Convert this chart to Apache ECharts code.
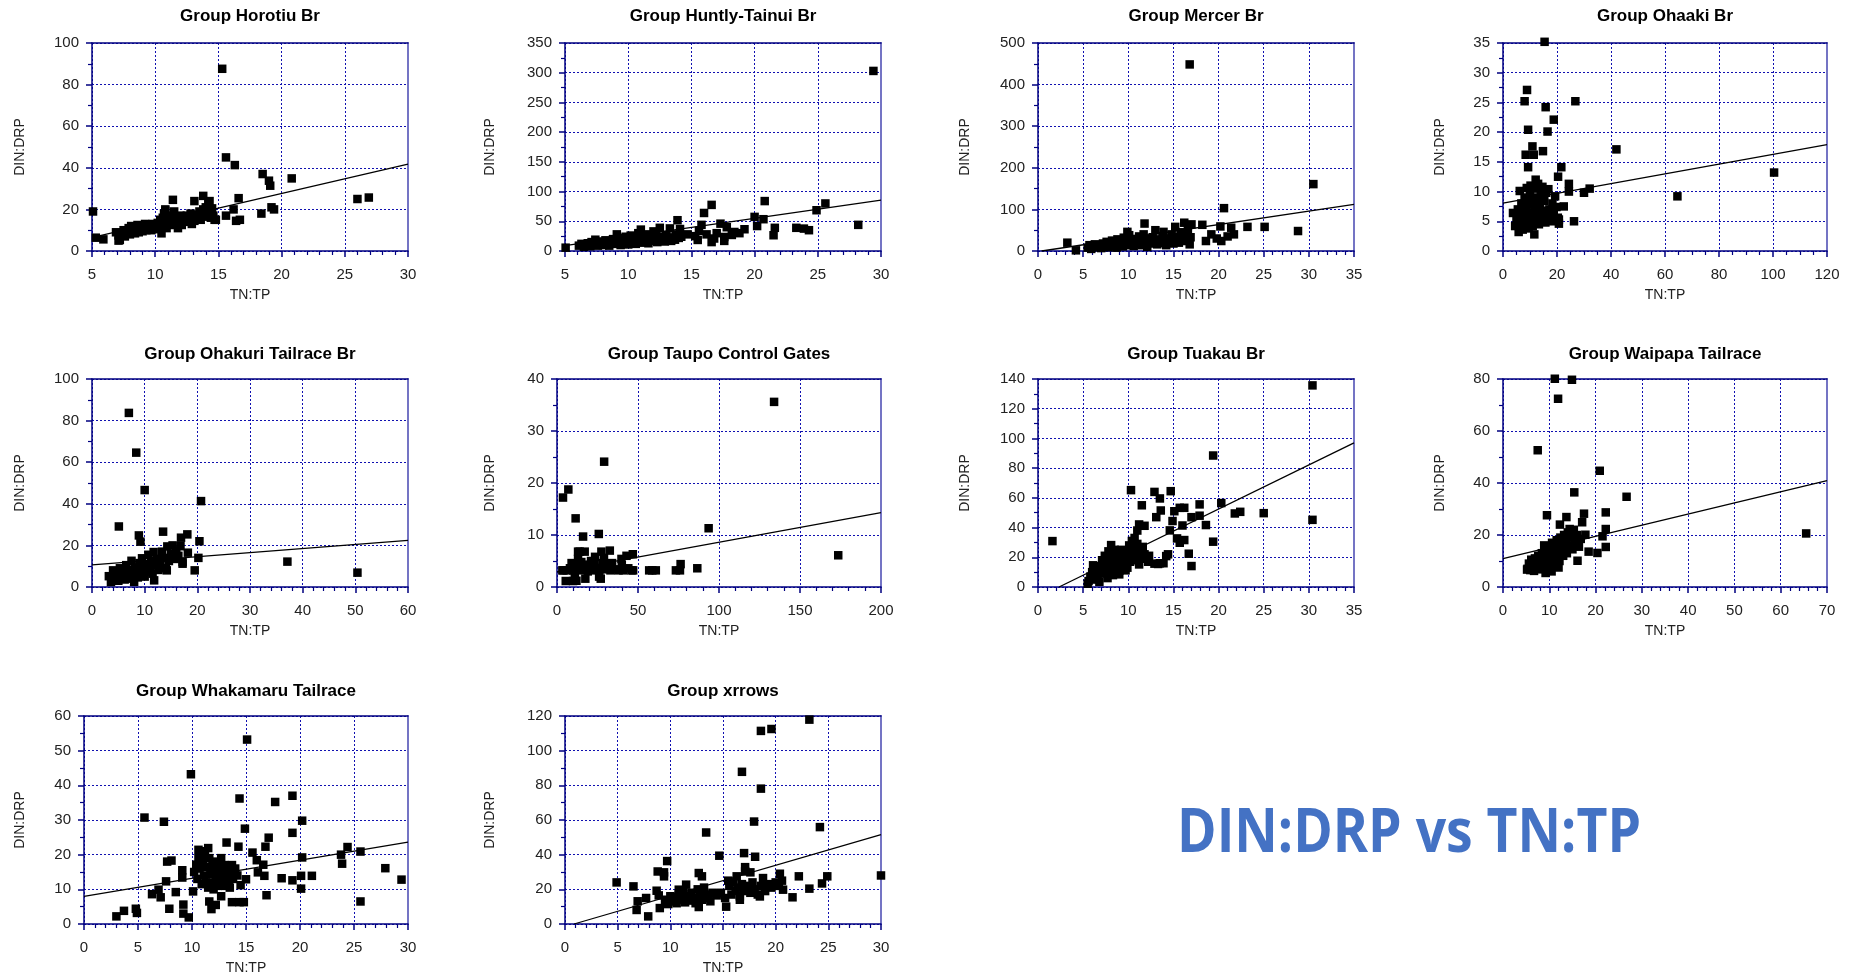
<!DOCTYPE html>
<html><head><meta charset="utf-8">
<script src="https://cdn.jsdelivr.net/npm/echarts@6/dist/echarts.min.js"></script>
<style>html,body{margin:0;padding:0;background:#fff}#c{width:1858px;height:979px}</style>
</head><body><div id="c"></div>
<script>
// ---------- DATA ----------
const titles = ['Group Horotiu Br','Group Huntly-Tainui Br','Group Mercer Br','Group Ohaaki Br',
  'Group Ohakuri Tailrace Br','Group Taupo Control Gates','Group Tuakau Br','Group Waipapa Tailrace',
  'Group Whakamaru Tailrace','Group xrrows'];
const xAxisName = 'TN:TP';
const yAxisName = 'DIN:DRP';
const bigLabel = 'DIN:DRP vs TN:TP';
// [min, max, interval]
const xRanges = [[5,30,5],[5,30,5],[0,35,5],[0,120,20],[0,60,10],[0,200,50],[0,35,5],[0,70,10],[0,30,5],[0,30,5]];
const yRanges = [[0,100,20],[0,350,50],[0,500,100],[0,35,5],[0,100,20],[0,40,10],[0,140,20],[0,80,20],[0,60,10],[0,120,20]];
const xMinorSplits = [5,5,5,4,5,5,5,5,5,5];

const horotiu = [[5.08,19],[5.3,6.4],[5.9,5.6],[7.1,5],[11.4,24.6],[10.8,19.3],[13.1,24],[13.8,26.5],[14.3,24],[14.7,15],
 [15.3,87.6],[15.6,45],[16.3,41.3],[15.6,17],[16.2,20],[16.4,14.5],[16.6,25.4],[16.7,15],[18.5,37],[19,33.8],[19.1,31.4],
 [18.4,18],[19.2,21],[19.4,20],[20.8,34.9],[26,25],[26.9,25.7],
 [6.9,9],[7.1,7.5],[7.2,5.3],[7.4,8.5],[7.5,10],[7.6,7],[7.8,9.5],[7.9,11],[8.0,8],[8.1,12],[8.2,9.5],[8.3,10.5],[8.4,8.5],
 [8.5,11.5],[8.6,12.5],[8.7,9],[8.8,10.5],[8.9,12],[9.0,9.5],[9.1,11],[9.2,13],[9.3,10],[9.4,12],[9.5,11],[9.6,12.5],[9.7,10],
 [9.8,13],[9.9,11.5],[10.0,12],[10.1,10.5],[10.2,13.5],[10.3,12],[10.4,15],[10.5,8.5],[10.6,16],[10.7,18],[10.7,13],[10.8,20],
 [10.9,11],[11.0,14],[11.1,17],[11.2,12.5],[11.3,15],[11.5,19],[11.6,13],[11.7,16],[11.8,11],[11.9,14.5],[12.0,17],[12.1,12.5],
 [12.2,15.5],[12.4,14],[12.5,17],[12.6,15],[12.8,18],[12.9,13],[13.0,16],[13.1,14.5],[13.2,17.5],[13.4,16],[13.5,19],[13.6,15],
 [13.7,17.5],[13.8,20],[13.9,16.5],[14.0,21],[14.1,18],[14.2,23],[14.3,19],[14.4,16],[14.5,20.5],[14.6,17],[14.8,15]];

const huntly = [[5.05,5.6],[29.4,303],[20.8,84],[25.6,80],[24.9,68.6],[16.0,64],[16.6,77.6],[13.9,51.8],[20.0,57.4],[20.7,53.5],
 [20.2,42],[17.3,46],[17.8,40],[21.6,39],[21.5,26.5],[23.3,39],[23.9,37.7],[24.3,35],[28.2,44],[19.2,36.6],[18.4,32],[18.2,27],
 [17.6,23.6],[17.6,17],[16.8,21],[16.6,15],[15.5,18.6],[15.6,34],[15.8,44],[14.7,28],[15.3,25],[16.2,28],[17.0,30],[18.8,30],
 [6.1,9],[6.3,12],[6.5,7],[6.6,10],[6.8,13],[7.0,8],[7.1,15],[7.3,11],[7.4,19],[7.5,14],[7.6,9],[7.8,12],[7.9,16],[8.0,10],
 [8.2,18],[8.3,13],[8.5,9],[8.6,15],[8.8,20],[8.9,12],[9.0,17],[9.1,28],[9.2,14],[9.3,22],[9.4,10],[9.5,18],[9.7,13],[9.8,24],
 [9.9,16],[10.0,11],[10.1,20],[10.2,26],[10.3,14],[10.4,18],[10.5,22],[10.6,12],[10.7,16],[10.8,30],[10.9,19],[11.0,36],[11.1,14],
 [11.2,24],[11.4,18],[11.5,28],[11.6,13],[11.8,21],[11.9,17],[12.0,33],[12.2,25],[12.3,15],[12.4,20],[12.5,39],[12.6,18],[12.8,24],
 [12.9,16],[13.0,27],[13.2,20],[13.3,38],[13.4,17],[13.5,23],[13.7,19],[13.8,28],[14.0,22],[14.1,37],[14.2,24]];

const mercer = [[3.25,20],[4.2,1.6],[16.8,448.5],[30.5,160.8],[20.6,103],[28.8,48],[25.1,58],[23.2,58],[21.4,56],[21.7,40],
 [20.2,59],[20.3,24],[19.2,40],[18.6,24],[18.2,63],[17.0,64],[16.2,68],[16.8,16],[15.2,58],[11.8,66],[13.0,50],[13.9,46],[9.9,46],
 [21.0,35],[19.8,30],
 [5.5,8],[5.7,14],[5.9,5],[6.1,11],[6.3,16],[6.5,9],[6.8,13],[7.0,7],[7.2,18],[7.4,11],[7.6,22],[7.8,9],[8.0,15],[8.2,25],[8.3,12],
 [8.5,19],[8.7,8],[8.8,28],[9.0,15],[9.2,22],[9.4,11],[9.5,32],[9.7,18],[9.8,26],[10.0,14],[10.1,38],[10.3,21],[10.5,29],[10.6,12],
 [10.8,24],[11.0,17],[11.2,35],[11.3,27],[11.5,14],[11.7,40],[11.8,22],[12.0,30],[12.1,10],[12.3,25],[12.5,18],[12.7,33],[12.9,21],
 [13.2,16],[13.4,28],[13.6,19],[13.8,36],[14.0,25],[14.2,14],[14.4,30],[14.6,22],[14.8,40],[15.0,18],[15.2,27],[15.4,34],[15.6,20],
 [15.8,45],[16.0,29],[16.2,38],[16.4,24],[16.6,52],[16.9,33]];

const ohaaki = [[15.4,35.2],[8.9,27.1],[8.0,25.2],[15.8,24.2],[26.8,25.2],[18.8,22.1],[9.3,20.4],[16.5,20.1],[10.9,17.6],[8.4,16.2],
 [11.4,16.2],[14.8,16.8],[42,17.1],[9.3,14.1],[21.6,14.1],[20.4,12.5],[100.4,13.2],[64.6,9.2],[24.4,11.3],[24.4,10],[32.1,10.5],
 [30,9.8],[22.5,7.5],[26.3,5.0],[11.6,2.8],[5.8,3.2],[3.7,6.4],[6.2,10.1],[12.1,12],[20.7,5.3],[20.7,4.6],
 [4.5,4.2],[5,5.5],[5.5,7],[6,4],[6.3,6.2],[6.8,8],[7,5],[7.3,3.6],[7.6,6.8],[8,9],[8.2,4.8],[8.5,7.2],[8.8,10.6],[9,5.8],[9.2,8.3],
 [9.5,3.8],[9.8,6.5],[10,9.6],[10.2,11],[10.5,5.2],[10.8,7.8],[11,4.2],[11.2,9],[11.5,6],[11.8,10.5],[12,7.2],[12.3,5],[12.5,8.6],
 [12.8,6.4],[13,11.3],[13.3,4.5],[13.6,7.5],[14,9.4],[14.3,5.6],[14.6,10.8],[15,6.8],[15.3,8.4],[15.7,4.8],[16,9.8],[16.4,6],
 [16.8,10.4],[17.2,7],[17.8,5],[18.3,8],[18.8,6.2],[19.3,9.2],[19.8,7.4],[20.3,5.6]];

const ohakuri = [[7.0,83.7],[8.4,64.6],[10.0,46.6],[5.1,29.1],[8.9,24.8],[9.2,21.8],[20.7,41.3],[13.5,26.6],[18.1,25.3],[16.9,23.7],
 [20.4,22],[20.2,14],[18.2,16.5],[19.5,8],[37.1,12.2],[50.4,6.9],[17.2,11.2],[11.8,3.2],
 [3.2,5.2],[3.6,2.4],[4.0,8],[4.3,4],[4.7,6.5],[5.0,3],[5.3,9],[5.6,5],[5.9,7.2],[6.2,3.6],[6.5,10.5],[6.7,6],[7.0,4],[7.2,8.3],
 [7.5,12.6],[7.7,5.5],[8.0,2.5],[8.2,9.4],[8.5,7],[8.7,4.6],[9.0,11.5],[9.2,6.3],[9.5,13.8],[9.7,8.8],[10.0,5],[10.2,11],[10.5,7.5],
 [10.7,15.5],[11.0,9.6],[11.2,12.5],[11.5,6.4],[11.7,16.8],[12.0,10.5],[12.3,13.5],[12.6,8.2],[13.0,11.8],[13.3,17],[13.6,14],
 [14.0,9],[14.3,19.5],[14.6,12.5],[15.0,16],[15.3,20],[15.7,13.5],[16.0,17.5],[16.4,15],[16.8,19.6],[17.2,12],[14.2,8]];

const taupo = [[134,35.6],[29.1,24.1],[7.0,18.75],[3.7,17.2],[11.5,13.2],[16.1,9.7],[25.8,10.2],[93.6,11.3],[173.6,6.1],[86.6,3.6],
 [76.3,4.4],[73.4,3.2],[75.9,3.2],[61,3.2],[56.9,3.2],[58.8,3.2],[46.8,6.3],[47,3.2],[32.6,7.0],[27.4,6.8],[17.1,6.8],[14,6.8],
 [23.5,5.8],[39.8,5.4],[42.9,6.0],[17.5,1.6],[27,1.6],[5.4,1.15],[9.9,1.15],[3.3,3.2],
 [4,3.2],[6,3.2],[8,3.6],[9,4.6],[10,3.2],[11,2.6],[12,4.2],[13,5.4],[14,3.6],[15,4.8],[16,3.2],[18,4.3],[19,3],[20,3.8],[21,5],
 [22,3.2],[23,4.4],[25,3.6],[26,3.2],[28,4.6],[29,5.6],[30,3.4],[31,4],[33,3.2],[34,4.6],[36,3.4],[38,3.2],[40,4.2],[41,3.2],
 [44,3.6],[46,3.2],[13,6.8],[12,1.2],[11,1.2],[26,2]];

const tuakau = [[30.4,135.7],[19.4,88.5],[1.6,30.9],[30.4,45.2],[25,49.7],[21.8,49.5],[22.4,50.6],[20.3,56.5],[19.4,30.5],[18.6,41.7],
 [17.9,55.6],[17.9,48],[17,47],[17,14.1],[16.7,22.4],[15.7,53.3],[16.2,53.3],[16,41.4],[15.4,32.7],[16.2,31.6],[15.7,29.8],
 [14.7,64.5],[15.1,51],[14.9,44.4],[14.6,38.1],[14.2,20.8],[12.9,64],[13.5,59.6],[13.6,51.5],[13.1,47],[10.3,65.2],[11.5,55],
 [11.8,41.2],[11.2,42.1],[11.0,38],[12.2,17],[12.9,15.7],[13.5,16],[11.2,15.2],[8.1,28.2],[6.1,14.6],[5.5,2.2],[9,8.5],[9.7,11.2],
 [14.4,22],[13.9,16],[13.3,15.5],
 [5.6,4],[5.8,7],[6.0,10],[6.2,5],[6.4,12],[6.6,8],[6.8,3.5],[7.0,14],[7.1,18],[7.2,9],[7.4,21],[7.5,12],[7.6,16],[7.7,6],[7.8,24],
 [7.9,19],[8.0,11],[8.1,15],[8.2,22],[8.3,8],[8.4,18],[8.5,25],[8.6,13],[8.7,20],[8.8,16],[8.9,23],[9.0,11],[9.1,19],[9.2,25],
 [9.3,14],[9.4,21],[9.5,17],[9.6,24],[9.8,19],[9.9,13],[10.0,22],[10.1,28],[10.2,17],[10.3,25],[10.4,31],[10.5,20],[10.6,26],
 [10.7,33],[10.8,22],[10.9,18],[11.0,29],[11.2,24],[11.4,20],[11.6,27],[11.8,22],[12.0,19],[12.3,21]];

const waipapa = [[11.2,80.1],[14.9,79.7],[11.9,72.4],[7.5,52.6],[20.9,44.7],[15.4,36.4],[26.7,34.7],[22.2,28.7],[17.5,28.2],[9.5,27.6],
 [13.7,26.9],[17.1,24.9],[12.3,24],[22.2,22.3],[14.4,22.3],[65.5,20.6],[17.8,20.1],[21.5,19.5],[22.2,15.4],[20.4,13.1],[18.5,13.6],
 [16.1,10.1],[9.2,5.4],[5.2,6.7],[8.9,16],
 [5.3,7],[5.6,9],[5.9,6.5],[6.1,10.5],[6.4,8],[6.7,6.2],[6.9,11],[7.1,7.5],[7.4,9.5],[7.6,12],[7.8,6.8],[8.0,10],[8.2,8.2],[8.4,13],
 [8.6,7],[8.8,11],[9.0,9],[9.2,14.5],[9.4,12],[9.6,7.8],[9.8,10.5],[10.0,15],[10.2,12.5],[10.4,9],[10.6,17],[10.8,13.5],[11.0,11],
 [11.2,15.5],[11.4,8.5],[11.6,18],[11.8,13],[12.0,16],[12.2,10],[12.4,19],[12.6,14],[12.8,17],[13.0,12],[13.2,20],[13.4,15],
 [13.6,18],[13.8,13],[14.0,21],[14.3,16],[14.6,19],[15.0,14.5],[15.3,22],[15.6,17],[16.0,20],[16.4,15.5],[16.8,18.5],[12.0,7.5],[10.5,6]];

const whakamaru = [[15.1,53.2],[9.9,43.2],[19.3,37],[14.4,36.2],[17.7,35.2],[5.6,30.7],[7.4,29.5],[20.2,29.8],[14.9,27.5],[19.3,26.3],
 [17.1,24.9],[13.2,23.5],[16.8,22.3],[14.3,22.3],[24.4,22.2],[23.8,20],[25.6,20.9],[20.2,19.2],[15.6,20.6],[10.6,21.4],[11.5,21.9],
 [16.0,18.4],[23.9,17.4],[27.9,16.1],[16.6,17.1],[16.1,14.9],[16.7,13.9],[18.3,13.2],[20.1,13.9],[21.1,13.9],[19.3,12.6],[15.0,12.9],
 [29.4,12.8],[20.1,10.2],[25.6,6.5],[16.9,8.3],[13.7,6.3],[14.4,6.3],[14.8,6.3],[11.6,6.5],[11.8,4.3],[7.9,4.4],[9.2,5.6],[9.7,1.9],
 [9.2,3],[3,2.2],[3.7,3.8],[4.8,4.4],[4.9,3.2],[6.3,8.6],[7.1,7.7],[6.9,9.9],[7.6,12.3],[7.7,18],[8.1,18.3],[9.1,15.5],[9.1,13.4],
 [8.5,9.2],[10.1,9.4],[10.4,17.1],[12.2,5.5],[12.7,8],[14.5,11.2],
 [10.2,15],[10.4,17],[10.5,13],[10.6,19],[10.7,16],[10.8,21],[10.9,11.5],[11.0,18],[11.1,14],[11.2,20],[11.3,12],[11.4,16.5],
 [11.5,10.5],[11.6,19],[11.7,14.5],[11.8,12],[11.9,17],[12.0,10],[12.1,15],[12.2,13],[12.3,18],[12.4,11],[12.5,16],[12.6,14],
 [12.7,19],[12.8,12],[12.9,15],[13.0,17],[13.1,11],[13.2,14],[13.3,16.5],[13.4,12.5],[13.5,10.5],[13.6,15],[13.7,17],[13.8,13],
 [14.0,16],[14.2,14]];

const xrrows = [[23.2,117.9],[19.6,112.5],[18.6,111.4],[16.8,87.8],[18.6,78.1],[17.95,59.1],[13.4,52.8],[24.2,55.9],[14.65,39.4],
 [17.0,40.9],[18.05,38.8],[9.7,36.3],[8.8,30.3],[9.4,29.8],[9.4,27.5],[12.7,29.4],[13.0,27.5],[17.1,32.8],[17.1,30.3],[17.6,29.8],
 [4.9,24],[6.5,21.7],[30,28],[24.9,27.5],[22.2,27.5],[20.4,29],[18.8,26.5],[24.4,23.4],[23.2,20.4],[21.6,15.4],[20.7,19.8],[15.3,10],
 [12.7,9.8],[7.9,4.4],[6.8,8.1],[6.9,13.1],[7.7,15],[8.7,19.2],[8.9,16.5],[9.0,9.2],[11.5,22.7],[10.8,19.8],[13.8,13.1],[14.5,17.7],
 [15.5,25],[16.3,27.5],[16.6,14],[18.5,15.9],
 [9.5,14],[9.8,11.5],[10.0,16],[10.2,13],[10.4,15.5],[10.6,12],[10.8,17],[11.0,14],[11.2,19],[11.4,12.5],[11.6,16],[11.8,13.5],
 [12.0,18],[12.2,15],[12.4,12],[12.6,20],[12.8,16],[13.0,14],[13.2,21],[13.4,17],[13.6,15],[14.0,18],[14.4,16.5],[14.8,18],[15.2,15],
 [15.6,22],[15.8,17],[16.0,24],[16.2,19],[16.4,21],[16.6,16],[16.8,23],[17.0,19],[17.3,22],[17.6,18],[17.8,24],[18.0,20],[18.3,17],
 [18.6,22],[19.0,19],[19.3,23],[19.6,21],[20.0,24],[20.3,22],[20.6,25]];

// regression line end points
const trendLines = [
 [[5.3,6.9],[30,41.8]], [[5,9],[30,85.5]], [[0.4,0],[35,112]], [[0,8.05],[120,17.9]], [[0,10.6],[60,22.4]],
 [[0,2.9],[200,14.3]], [[2.33,0],[35,97]], [[0,10.9],[70,40.9]], [[0,8],[30,23.6]], [[0.86,0],[30,51.5]]];

const seriesData = [horotiu, huntly, mercer, ohaaki, ohakuri, taupo, tuakau, waipapa, whakamaru, xrrows];

// ---------- LAYOUT ----------
const lefts = [92,565,1038,1503, 92,557,1038,1503, 84,565];
const colRights = [408,881,1354,1827];
const colNameX = [20,490,965,1440];
const rowTops = [43,379,716];
const rowTitleY = [16,354,691];
const plotH = 208;
const NAVY = '#000080';
const FONT = '"Liberation Sans", Arial, sans-serif';

const grids=[], xAxes=[], yAxes=[], series=[], graphics=[];
for (let i=0;i<10;i++){
  const row=Math.floor(i/4), col=i%4;
  const left=lefts[i], right=colRights[col], top=rowTops[row];
  grids.push({left:left, top:top, width:right-left, height:plotH, containLabel:false});
  const [x0,x1,xs]=xRanges[i], [y0,y1,ys]=yRanges[i];
  xAxes.push({type:'value', gridIndex:i, min:x0, max:x1, interval:xs, position:'bottom',
    axisLine:{show:true, onZero:false, lineStyle:{color:NAVY, width:1.5}},
    axisTick:{show:true, inside:false, length:6, lineStyle:{color:NAVY, width:1.5}},
    minorTick:{show:true, splitNumber:xMinorSplits[i], length:4, lineStyle:{color:NAVY, width:1.2}},
    axisLabel:{show:true, margin:16, fontSize:15, color:'#222', fontFamily:FONT, showMinLabel:true, showMaxLabel:true},
    splitLine:{show:true, lineStyle:{color:'#1010b0', type:[2,2], width:1}}});
  xAxes.push({type:'value', gridIndex:i, min:x0, max:x1, interval:xs, position:'top',
    axisLine:{show:true, onZero:false, lineStyle:{color:NAVY, width:1.5}},
    axisTick:{show:false}, axisLabel:{show:false}, splitLine:{show:false}});
  yAxes.push({type:'value', gridIndex:i, min:y0, max:y1, interval:ys, position:'left',
    axisLine:{show:true, onZero:false, lineStyle:{color:NAVY, width:1.5}},
    axisTick:{show:true, inside:false, length:6, lineStyle:{color:NAVY, width:1.5}},
    minorTick:{show:true, splitNumber:2, length:4, lineStyle:{color:NAVY, width:1.2}},
    axisLabel:{show:true, margin:13, fontSize:15, color:'#222', fontFamily:FONT, showMinLabel:true, showMaxLabel:true},
    splitLine:{show:true, lineStyle:{color:'#1010b0', type:[2,2], width:1}}});
  yAxes.push({type:'value', gridIndex:i, min:y0, max:y1, interval:ys, position:'right',
    axisLine:{show:true, onZero:false, lineStyle:{color:'#7474c4', width:2}},
    axisTick:{show:false}, axisLabel:{show:false}, splitLine:{show:false}});
  series.push({type:'line', xAxisIndex:2*i, yAxisIndex:2*i, data:trendLines[i], symbol:'none', silent:true,
    lineStyle:{color:'#000', width:1.3}, clip:true, z:2, animation:false});
  series.push({type:'scatter', xAxisIndex:2*i, yAxisIndex:2*i, data:seriesData[i], symbol:'rect', symbolSize:8.5,
    itemStyle:{color:'#000', opacity:1}, clip:false, z:3, animation:false});
  const cx=(left+right)/2;
  graphics.push({type:'text', x:cx, y:rowTitleY[row], style:{text:titles[i], font:'bold 17px '+FONT, fill:'#000',
    align:'center', verticalAlign:'middle', textAlign:'center', textVerticalAlign:'middle'}});
  graphics.push({type:'text', x:cx, y:top+plotH+44, style:{text:xAxisName, font:'14px '+FONT, fill:'#222',
    align:'center', verticalAlign:'middle', textAlign:'center', textVerticalAlign:'middle'}});
  graphics.push({type:'text', x:colNameX[col], y:top+plotH/2, rotation:Math.PI/2, style:{text:yAxisName, font:'14px '+FONT, fill:'#222',
    align:'center', verticalAlign:'middle', textAlign:'center', textVerticalAlign:'middle'}});
}
// big label
const bigFont = 'bold 60px "Open Sans", "Noto Sans", sans-serif';
const cv=document.createElement('canvas').getContext('2d'); cv.font=bigFont;
const bw=cv.measureText(bigLabel).width;
graphics.push({type:'text', x:1177, y:835, scaleX:464/bw, style:{text:bigLabel, font:bigFont, fill:'#4472C4',
  align:'left', verticalAlign:'middle', textAlign:'left', textVerticalAlign:'middle'}});

const chart=echarts.init(document.getElementById('c'), null, {renderer:'canvas'});
chart.setOption({animation:false, backgroundColor:'#fff', grid:grids, xAxis:xAxes, yAxis:yAxes, series:series, graphic:graphics});
</script></body></html>
